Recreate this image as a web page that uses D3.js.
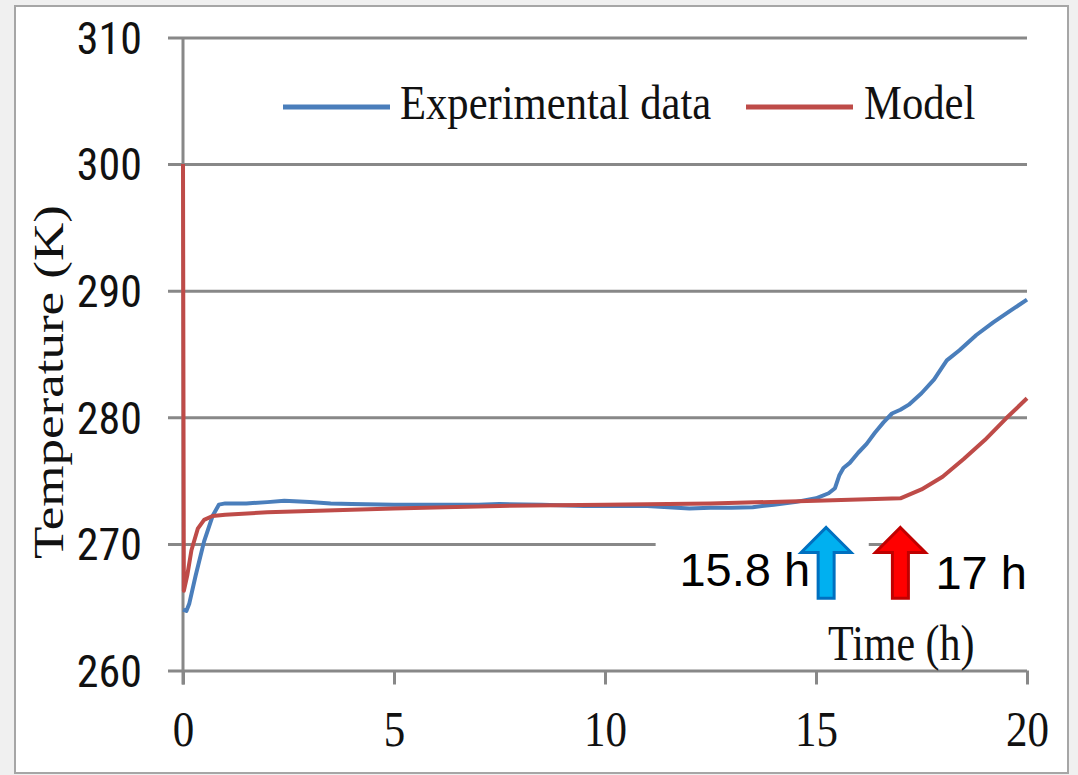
<!DOCTYPE html>
<html>
<head>
<meta charset="utf-8">
<script src="https://cdn.jsdelivr.net/npm/d3@7"></script>
<style>
  html, body { margin: 0; padding: 0; background: #f0f0f0; }
  svg { display: block; }
</style>
</head>
<body>
<div id="chart"></div>
<script>
(function(){

// Data

let expTime = [0, 0.08, 0.15, 0.3, 0.5, 0.7, 0.85, 1.0, 1.5, 2.0, 2.4, 3.0, 3.5, 4.0, 5.0, 6.0, 7.0, 7.5, 8.5, 9.5,
  10.5, 11.0, 11.5, 12.0, 12.5, 13.0, 13.5, 14.0, 14.5, 15.0, 15.3, 15.45, 15.55, 15.65, 15.8, 16.0, 16.2, 16.4,
  16.6, 16.8, 17.0, 17.2, 17.5, 17.8, 18.0, 18.1, 18.4, 18.8, 19.2, 19.6, 20.0]
let expTemp = [264.8, 264.7, 265.3, 267.5, 270.2, 272.2, 273.1, 273.2, 273.2, 273.3, 273.4, 273.3, 273.2, 273.15, 273.1, 273.1, 273.1, 273.15, 273.1, 273.0,
  273.0, 273.0, 272.9, 272.8, 272.85, 272.85, 272.9, 273.1, 273.3, 273.6, 274.0, 274.4, 275.4, 276.0, 276.4, 277.2, 277.9, 278.8,
  279.6, 280.3, 280.6, 281.0, 281.9, 283.0, 284.0, 284.5, 285.3, 286.5, 287.5, 288.4, 289.3]

let modelTime = [0, 0.02, 0.1, 0.2, 0.35, 0.5, 0.7, 1.0, 2.0, 3.0, 5.0, 7.5, 10.0, 12.5, 15.0, 17.0, 17.5, 18.0, 18.5, 19.0, 19.5, 20.0]
let modelTemp = [300, 266.3, 267.5, 269.5, 271.2, 271.9, 272.2, 272.3, 272.5, 272.6, 272.8, 273.0, 273.1, 273.2, 273.4, 273.6, 274.3, 275.3, 276.7, 278.2, 279.9, 281.5]

let xTicks = [0, 5, 10, 15, 20]
let yTicks = [260, 270, 280, 290, 300, 310]

let seriesNames = ['Experimental data', 'Model']
let seriesColors = ['#4a7ebb', '#be4b48']

// onset markers: time of arrow, label
let markerTimes = [15.24, 17.0]
let markerLabels = ['15.8 h', '17 h']
let markerFills = ['#00b0f0', '#ff0000']
let markerStrokes = ['#0070c0', '#c00000']
let arrowTop = 271.3
let arrowBottom = 265.7

// Layout

let W = 1078, H = 775
let margin = { top: 37.5, left: 183, right: 51, bottom: 104.5 }
let width = W - margin.left - margin.right
let height = H - margin.top - margin.bottom

let svg = d3.select('#chart')
  .append('svg')
  .attr('width', W)
  .attr('height', H)

// page frame
svg.append('rect')
  .attr('x', 15).attr('y', 6)
  .attr('width', 1053).attr('height', 767)
  .attr('fill', 'white')
  .attr('stroke', '#a6a6a6')
  .attr('stroke-width', 2)

let g = svg.append('g')
  .attr('transform', 'translate(' + margin.left + ',' + margin.top + ')')

let xScale = d3.scaleLinear().domain([0, 20]).range([0, width])
let yScale = d3.scaleLinear().domain([260, 310]).range([height, 0])

// Y axis with gridlines
let yAxis = d3.axisLeft(yScale)
  .tickValues(yTicks)
  .tickSize(-width)
  .tickPadding(41)
  .tickFormat(d3.format('d'))

let yG = g.append('g')
  .attr('class', 'axis y-axis')
  .call(yAxis)
yG.select('.domain').remove()
yG.selectAll('.tick line')
  .attr('x1', -15)
  .attr('stroke', '#888')
  .attr('stroke-width', 3)
yG.selectAll('.tick text')
  .attr('fill', '#111')
  .attr('dy', '0.36em')
  .style('font-family', '"Liberation Sans Narrow", "Roboto Condensed", "Liberation Sans", sans-serif')
  .style('font-size', '44px')

// vertical axis line
g.append('line')
  .attr('x1', 0).attr('x2', 0)
  .attr('y1', yScale(310)).attr('y2', height + 14)
  .attr('stroke', '#888')
  .attr('stroke-width', 3)

// X axis
let xAxis = d3.axisBottom(xScale)
  .tickValues(xTicks)
  .tickSize(14)
  .tickPadding(26)
  .tickFormat(d3.format('d'))

let xG = g.append('g')
  .attr('class', 'axis x-axis')
  .attr('transform', 'translate(0,' + height + ')')
  .call(xAxis)
xG.select('.domain').remove()
xG.selectAll('.tick line')
  .attr('stroke', '#888')
  .attr('stroke-width', 3)
xG.selectAll('.tick text')
  .attr('fill', '#111')
  .attr('transform', 'scale(0.86,1)')
  .style('font-family', '"Liberation Serif", "Times New Roman", serif')
  .style('font-size', '50px')

// Annotation boxes (white patches hiding the 270 grid line)
g.append('rect')
  .attr('x', xScale(11.2)).attr('y', yScale(272))
  .attr('width', xScale(16.25) - xScale(11.2))
  .attr('height', yScale(265) - yScale(272))
  .attr('fill', 'white')
g.append('rect')
  .attr('x', xScale(17.3)).attr('y', yScale(272))
  .attr('width', xScale(20.2) - xScale(17.3))
  .attr('height', yScale(265) - yScale(272))
  .attr('fill', 'white')

// Lines
let line = d3.line()
  .x(function(d){ return xScale(d[0]) })
  .y(function(d){ return yScale(d[1]) })

let expData = d3.zip(expTime, expTemp)
let modelData = d3.zip(modelTime, modelTemp)

g.append('path')
  .datum(expData)
  .attr('d', line)
  .attr('fill', 'none')
  .attr('stroke', seriesColors[0])
  .attr('stroke-width', 4)
  .attr('stroke-linejoin', 'round')

g.append('path')
  .datum(modelData)
  .attr('d', line)
  .attr('fill', 'none')
  .attr('stroke', seriesColors[1])
  .attr('stroke-width', 4)
  .attr('stroke-linejoin', 'round')

// Arrows
markerTimes.forEach(function(t, i){
  let cx = xScale(t)
  let yt = yScale(arrowTop)
  let yb = yScale(arrowBottom)
  let yh = yt + 25
  let pts = [[cx, yt], [cx + 25, yh], [cx + 8, yh], [cx + 8, yb], [cx - 8, yb], [cx - 8, yh], [cx - 25, yh]]
  g.append('path')
    .attr('d', 'M' + pts.join('L') + 'Z')
    .attr('fill', markerFills[i])
    .attr('stroke', markerStrokes[i])
    .attr('stroke-width', 3)
    .attr('stroke-linejoin', 'miter')
})

g.append('text')
  .attr('x', xScale(markerTimes[0]) - 16)
  .attr('y', yScale(arrowBottom) - 12)
  .attr('text-anchor', 'end')
  .attr('fill', 'black')
  .style('font-family', '"Liberation Sans", Arial, sans-serif')
  .style('font-size', '47px')
  .text(markerLabels[0])

g.append('text')
  .attr('x', xScale(markerTimes[1]) + 35)
  .attr('y', yScale(arrowBottom) - 9)
  .attr('text-anchor', 'start')
  .attr('fill', 'black')
  .style('font-family', '"Liberation Sans", Arial, sans-serif')
  .style('font-size', '47px')
  .text(markerLabels[1])

// Axis titles
svg.append('text')
  .attr('transform', 'translate(828,660) scale(0.84,1)')
  .attr('fill', '#111')
  .style('font-family', '"Liberation Serif", "Times New Roman", serif')
  .style('font-size', '50px')
  .text('Time (h)')

svg.append('text')
  .attr('transform', 'translate(63,382) rotate(-90) scale(1,0.8)')
  .attr('text-anchor', 'middle')
  .attr('fill', '#111')
  .style('font-family', '"Liberation Serif", "Times New Roman", serif')
  .style('font-size', '53px')
  .text('Temperature (K)')

// Legend
let legendLineX = [283, 746]
let legendTextX = [400, 864]

seriesNames.forEach(function(name, i){
  svg.append('line')
    .attr('x1', legendLineX[i]).attr('x2', legendLineX[i] + 107)
    .attr('y1', 107).attr('y2', 107)
    .attr('stroke', seriesColors[i])
    .attr('stroke-width', 5)
  svg.append('text')
    .attr('transform', 'translate(' + legendTextX[i] + ',119) scale(0.87,1)')
    .attr('fill', '#111')
    .style('font-family', '"Liberation Serif", "Times New Roman", serif')
    .style('font-size', '49px')
    .text(name)
})

})()
</script>
</body>
</html>
